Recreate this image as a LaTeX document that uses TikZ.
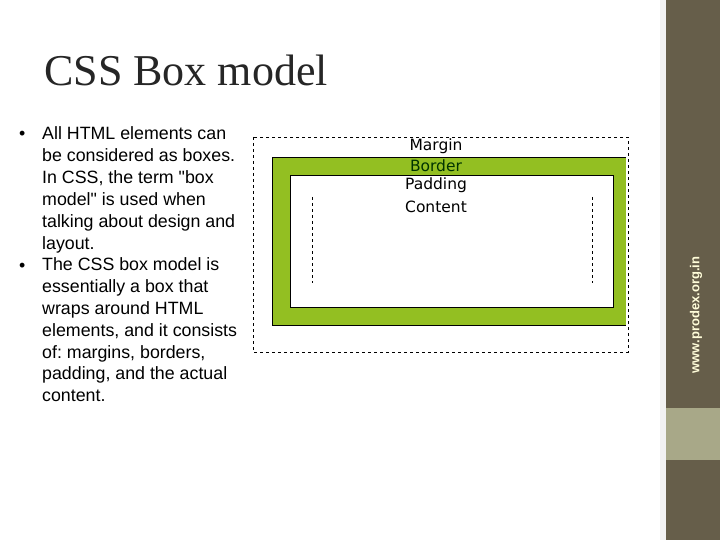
\documentclass[tikz,border=0pt]{standalone}
\usepackage{fontspec}
\setmainfont{Liberation Sans}[Ligatures=TeXOff]
\newfontfamily\titlefont{Liberation Serif}
\newfontfamily\dv{DejaVu Sans}
\definecolor{side}{HTML}{665E4A}
\definecolor{band}{HTML}{A8A888}
\definecolor{grn}{HTML}{93BF22}
\frenchspacing
\begin{document}
\begin{tikzpicture}[x=1pt,y=-1pt,
  line/.style={anchor=base west,font=\fontsize{17.8}{20}\selectfont,inner sep=0pt},
  lbl/.style={font=\dv\fontsize{15.5}{17}\selectfont,inner sep=0pt}]
\useasboundingbox (0,0) rectangle (720,540);
\fill[white!95!black] (0,0) rectangle (666,540);
\fill[white] (0,0) rectangle (660,540);
\fill[side] (666,0) rectangle (720,540);
\fill[band] (666,408) rectangle (720,460);
\node[rotate=90,text=white!85!yellow,font=\bfseries\fontsize{13}{14}\selectfont] (site) at (696,315) {www.prodex.org.in};
\node[anchor=west,inner sep=0pt,font=\titlefont\fontsize{44}{48}\selectfont,text=black!85] (title) at (44,70) {CSS Box model};
\foreach \t [count=\i] in {{All HTML elements can},{be considered as boxes.},{In CSS, the term "box},{model" is used when},{talking about design and},{layout.},{The CSS box model is},{essentially a box that},{wraps around HTML},{elements, and it consists},{of: margins, borders,},{padding, and the actual},{content.}}{
  \node[line] (l\i) at (42,{140+(\i-1)*21.8}) {\t};
}
\node[line] (b1) at (19,140) {•};
\node[line] (b2) at (19,271) {•};
\draw[dashed,thin] (253,137) rectangle (628,352);
\fill[grn] (272,157) rectangle (626,325);
\draw[thin] (626,157) -- (272,157) -- (272,325) -- (626,325);
\draw[thin,fill=white] (290,175) rectangle (613,307);
\draw[dashed,thin] (312,197) -- (312,283);
\draw[dashed,thin] (592,197) -- (592,283);
\node[lbl] (m) at (436,146.5) {Margin};
\node[lbl,text=black!80!green] (bo) at (436,166) {Border};
\node[lbl] (p) at (436,185.5) {Padding};
\node[lbl] (c) at (436,207) {Content};
\end{tikzpicture}
\end{document}
